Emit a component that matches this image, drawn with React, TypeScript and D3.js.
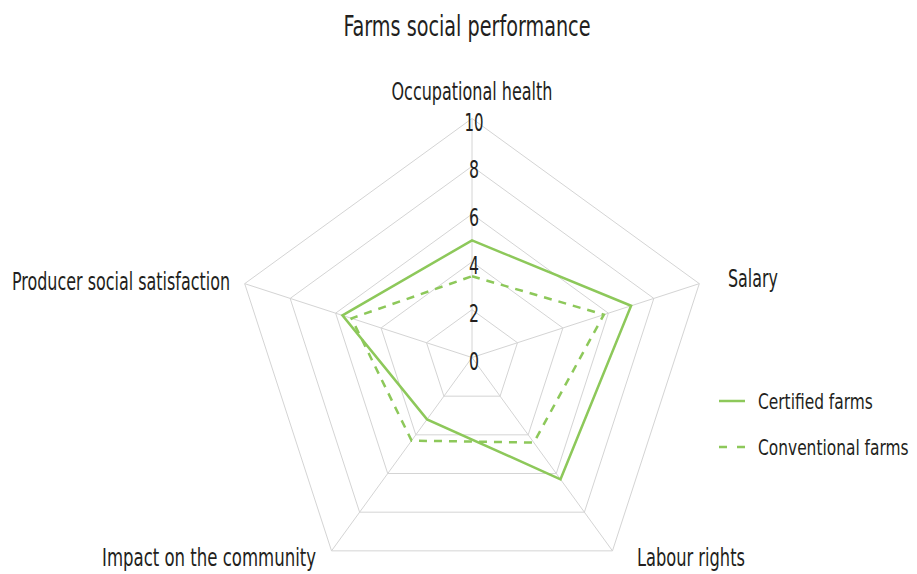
import React from "react";
import * as d3 from "d3";

const axes = ["Occupational health", "Salary", "Labour rights", "Impact on the community", "Producer social satisfaction"];
const certified = [4.9, 7.0, 6.3, 3.2, 5.7];
const conventional = [3.4, 5.8, 4.4, 4.3, 5.3];
const ticks = [0, 2, 4, 6, 8, 10];
const seriesNames = ["Certified farms", "Conventional farms"];

const W = 917, H = 574;
const cx = 472, cy = 357.5, R = 239;
const GREEN = "#8dc85a";
const TEXT = "#231f20";
const FONT = "'Liberation Sans Narrow', 'DejaVu Sans Condensed', 'Roboto', sans-serif";

export default function App() {
  const r = d3.scaleLinear().domain([0, 10]).range([0, R]);
  const angle = (i: number) => (i * 2 * Math.PI) / axes.length;
  const pt = (i: number, v: number): [number, number] => [
    cx + r(v) * Math.sin(angle(i)),
    cy - r(v) * Math.cos(angle(i)),
  ];
  const ring = (v: number) => axes.map((_, i) => pt(i, v));
  const lineGen = d3.line<[number, number]>().curve(d3.curveLinearClosed);

  const labelPos = [
    { x: 472, y: 100, anchor: "middle", len: 161 },
    { x: 728, y: 287, anchor: "start", len: 50 },
    { x: 637, y: 566, anchor: "start", len: 108 },
    { x: 102, y: 566, anchor: "start", len: 214 },
    { x: 12, y: 290, anchor: "start", len: 218 },
  ];

  return (
    <svg width={W} height={H} style={{ position: "absolute", left: 0, top: 0, background: "#fff" }} fontFamily={FONT}>
      <text x={467} y={36} textAnchor="middle" fontSize={29} fill={TEXT} textLength={247} lengthAdjust="spacingAndGlyphs">
        Farms social performance
      </text>
      {ticks.slice(1).map((t) => (
        <path key={t} d={lineGen(ring(t)) || ""} fill="none" stroke="#d4d4d4" strokeWidth={1} />
      ))}
      {axes.map((_, i) => {
        const [x, y] = pt(i, 10);
        return <line key={i} x1={cx} y1={cy} x2={x} y2={y} stroke="#d4d4d4" strokeWidth={1} />;
      })}
      <path d={lineGen(certified.map((v, i) => pt(i, v))) || ""} fill="none" stroke={GREEN} strokeWidth={2.5} strokeLinejoin="miter" />
      <path d={lineGen(conventional.map((v, i) => pt(i, v))) || ""} fill="none" stroke={GREEN} strokeWidth={2.5} strokeDasharray="8,7" />
      {ticks.map((t) => (
        <text key={t} x={cx + 2} y={cy - r(t) + 4} textAnchor="middle" dominantBaseline="central" fontSize={24} fill={TEXT}
          textLength={t === 10 ? 19 : 10} lengthAdjust="spacingAndGlyphs">
          {t}
        </text>
      ))}
      {axes.map((a, i) => {
        const p = labelPos[i];
        return (
          <text key={a} x={p.x} y={p.y} textAnchor={p.anchor as any} fontSize={24} fill={TEXT} textLength={p.len} lengthAdjust="spacingAndGlyphs">
            {a}
          </text>
        );
      })}
      <line x1={719} x2={745} y1={401} y2={401} stroke={GREEN} strokeWidth={2.5} />
      <g transform="translate(758,409) scale(0.78,1)">
        <text x={0} y={0} fontSize={22} fill={TEXT}>{seriesNames[0]}</text>
      </g>
      <line x1={719} x2={745} y1={447} y2={447} stroke={GREEN} strokeWidth={2.5} strokeDasharray="8,10" />
      <g transform="translate(758,455) scale(0.78,1)">
        <text x={0} y={0} fontSize={22} fill={TEXT}>{seriesNames[1]}</text>
      </g>
    </svg>
  );
}
